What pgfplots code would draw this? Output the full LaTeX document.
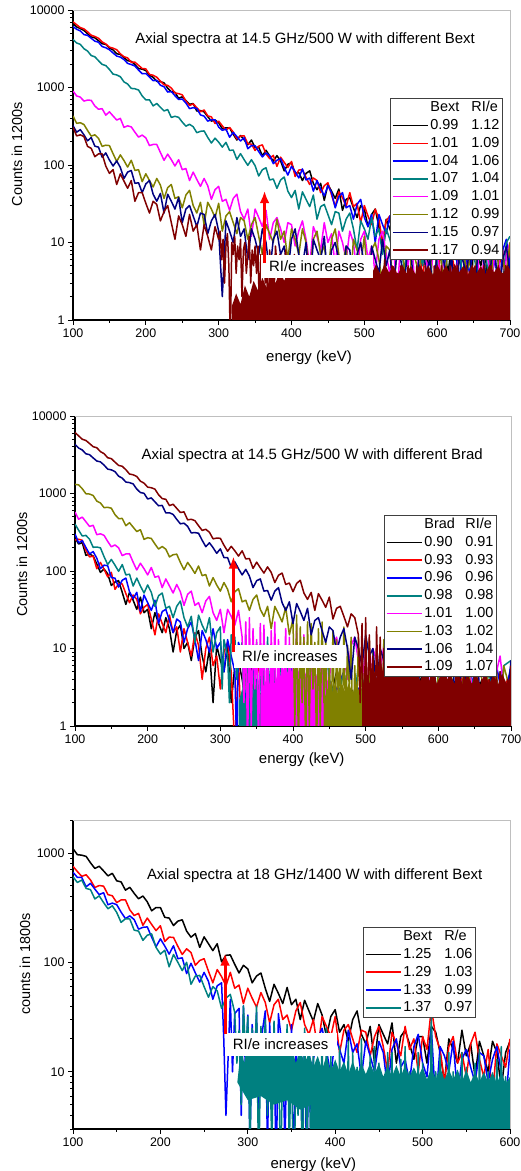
\documentclass[border=0pt]{standalone}
\usepackage{fontspec}
\setmainfont{Liberation Sans}
\usepackage{pgfplots}
\pgfplotsset{compat=1.18}
\usetikzlibrary{arrows.meta}
\definecolor{cteal}{RGB}{0,128,128}
\definecolor{colive}{RGB}{128,128,0}
\definecolor{cnavy}{RGB}{0,0,128}
\definecolor{cwine}{RGB}{128,0,0}
\definecolor{cmag}{RGB}{255,0,255}
\definecolor{cred}{RGB}{255,0,0}
\definecolor{cblue}{RGB}{0,0,255}
\newcommand{\lgent}[2]{\makebox[41bp][l]{#1}#2}
\tikzset{
  mybox/.style={fill=white, minimum width=112bp, minimum height=23bp, inner sep=0pt, font=\fontsize{15}{17}\selectfont},
  myttl/.style={font=\fontsize{15}{17}\selectfont},
  myarr/.style={draw=cred, line width=3bp, -{Latex[length=12bp,width=10bp]}},
}
\pgfplotsset{every axis/.append style={
    scale only axis, anchor=south west,
    axis x line*=bottom, axis y line*=left,
    axis line style={line width=1.1bp},
    tick align=outside, major tick length=5bp, minor tick length=3bp,
    tick style={black, line width=0.8bp},
    ticklabel style={font=\fontsize{12.5}{14}\selectfont},
    /pgf/number format/assume math mode=true,
    /pgf/number format/1000 sep={},
    xlabel style={font=\fontsize{15}{17}\selectfont, anchor=center},
    ylabel style={font=\fontsize{14.5}{17}\selectfont, anchor=center},
    legend cell align=left,
    legend style={draw=black!75, line width=1bp, fill=white,
      font=\fontsize{14.5}{16}\selectfont, inner xsep=1bp, inner ysep=1.5bp,
      row sep=2.4bp, anchor=north east,
      nodes={inner xsep=2bp, inner ysep=0.7bp, text height=11bp, text depth=3bp}},
  },
  every axis plot/.append style={line width=1.5bp, line join=round},
}
\begin{document}
\begin{tikzpicture}
\useasboundingbox (0bp,0bp) rectangle (521bp,1171bp);
% ---------------- Panel 1 ----------------
\begin{axis}[at={(73bp,851bp)}, width=437bp, height=310bp, ymode=log,
  xmin=100, xmax=700, ymin=1, ymax=10000,
  xtick={100,200,...,700}, minor xtick={150,250,...,650},
  ytick={1,10,100,1000,10000}, yticklabels={1,10,100,1000,10000},
  minor ytick={2,3,...,9,20,30,...,90,200,300,...,900,2000,3000,...,9000},
  xlabel={energy (keV)}, ylabel={Counts in 1200s},
  xlabel style={at={(axis description cs:0.54,-0.1226)}},
  ylabel style={at={(axis description cs:-0.128,0.535)}},
  legend style={at={(0.984,0.716)}},
  legend image code/.code={\draw[#1, line width=1.5bp] (0bp,0bp) -- (35bp,0bp);},
  extra description/.code={\draw[black!25, line width=0.8bp] (0,1) -- (1,1) -- (1,0);},
]
\addlegendimage{empty legend}\addlegendentry{\lgent{Bext}{RI/e}}
\addplot[black] coordinates {(100,6660)(105,6050)(110,5757)(115,5447)(120,4930)(125,4491)(130,4374)(135,4017)(140,3677)(145,3597)(150,3221)(155,3056)(160,2723)(165,2672)(170,2426)(175,2216)(180,2174)(185,1974)(190,1751)(195,1724)(200,1653)(205,1436)(210,1355)(215,1202)(220,1190)(225,1149)(230,979)(235,880)(240,866)(245,725)(250,759)(255,678)(260,606)(265,621)(270,496)(275,504)(280,484)(285,421)(290,368)(295,381)(300,351)(305,293)(310,302)(315,301)(320,249)(325,210)(330,240)(335,211)(340,182)(345,210)(350,167)(355,170)(360,131)(365,155)(370,131)(375,112)(380,132)(385,113)(390,84)(395,102)(400,107)(405,78)(410,80)(415,63)(420,78)(425,84)(430,58)(435,48)(440,58)(445,35)(450,56)(455,46)(460,37)(465,49)(470,26)(475,36)(480,38)(485,28)(490,21)(495,30)(500,27)(505,16)(510,23)(515,27)(520,16)(525,9)(530,20)(535,15)(540,11)(545,21)(550,12)(555,15)(560,6)(565,15)(570,10)(575,7)(580,14)(585,10)(590,3)(595,10)(600,13)(605,6)(610,8)(615,4)(620,10)(625,13)(630,6)(635,4)(640,8)(645,1)(650,10)(655,7)(660,5)(665,11)(670,2)(675,7)(680,9)(685,5)(690,3)(695,8)(700,7)};
\addlegendentry{\lgent{0.99}{1.12}}
\addplot[cred] coordinates {(100,7035)(105,6450)(110,5930)(115,5707)(120,5233)(125,4724)(130,4556)(135,4319)(140,3871)(145,3649)(150,3316)(155,3215)(160,3072)(165,2722)(170,2495)(175,2410)(180,2115)(185,2121)(190,1931)(195,1759)(200,1739)(205,1473)(210,1438)(215,1358)(220,1208)(225,1082)(230,1066)(235,982)(240,850)(245,833)(250,803)(255,670)(260,585)(265,614)(270,549)(275,485)(280,513)(285,430)(290,418)(295,343)(300,368)(305,320)(310,283)(315,305)(320,266)(325,217)(330,236)(335,238)(340,188)(345,186)(350,154)(355,175)(360,182)(365,139)(370,121)(375,133)(380,96)(385,126)(390,108)(395,93)(400,111)(405,71)(410,86)(415,87)(420,69)(425,56)(430,68)(435,63)(440,44)(445,54)(450,59)(455,41)(460,29)(465,45)(470,38)(475,29)(480,44)(485,29)(490,32)(495,18)(500,30)(505,22)(510,17)(515,27)(520,20)(525,10)(530,19)(535,22)(540,12)(545,14)(550,8)(555,15)(560,20)(565,10)(570,7)(575,12)(580,3)(585,13)(590,9)(595,7)(600,13)(605,3)(610,9)(615,11)(620,7)(625,4)(630,9)(635,9)(640,3)(645,7)(650,10)(655,5)(660,1)(665,9)(670,6)(675,4)(680,11)(685,5)(690,8)(695,2)(700,8)};
\addlegendentry{\lgent{1.01}{1.09}}
\addplot[cblue] coordinates {(100,6113)(105,5635)(110,5375)(115,4811)(120,4706)(125,4317)(130,3963)(135,3838)(140,3372)(145,3254)(150,3073)(155,2788)(160,2544)(165,2467)(170,2293)(175,2047)(180,1978)(185,1892)(190,1678)(195,1504)(200,1514)(205,1368)(210,1227)(215,1236)(220,1069)(225,1022)(230,874)(235,886)(240,784)(245,700)(250,710)(255,630)(260,534)(265,549)(270,535)(275,443)(280,427)(285,368)(290,383)(295,383)(300,308)(305,280)(310,291)(315,228)(320,264)(325,232)(330,204)(335,225)(340,162)(345,178)(350,177)(355,149)(360,127)(365,143)(370,132)(375,104)(380,115)(385,121)(390,93)(395,74)(400,96)(405,82)(410,68)(415,89)(420,64)(425,68)(430,46)(435,63)(440,49)(445,40)(450,54)(455,44)(460,28)(465,39)(470,44)(475,28)(480,30)(485,20)(490,31)(495,36)(500,21)(505,16)(510,23)(515,10)(520,23)(525,17)(530,13)(535,22)(540,7)(545,14)(550,16)(555,11)(560,7)(565,13)(570,12)(575,6)(580,10)(585,13)(590,7)(595,2)(600,10)(605,8)(610,5)(615,13)(620,6)(625,9)(630,3)(635,9)(640,6)(645,4)(650,10)(655,6)(660,1)(665,7)(670,10)(675,4)(680,6)(685,2)(690,8)(695,11)(700,5)};
\addlegendentry{\lgent{1.04}{1.06}}
\addplot[cteal] coordinates {(100,4177)(105,3755)(110,3605)(115,3169)(120,2953)(125,2581)(130,2489)(135,2217)(140,1985)(145,1919)(150,1709)(155,1488)(160,1452)(165,1377)(170,1181)(175,1109)(180,973)(185,963)(190,928)(195,778)(200,693)(205,693)(210,579)(215,621)(220,556)(225,498)(230,519)(235,411)(240,425)(245,412)(250,358)(255,317)(260,335)(265,312)(270,261)(275,272)(280,275)(285,227)(290,192)(295,222)(300,197)(305,170)(310,196)(315,154)(320,156)(325,118)(330,140)(335,117)(340,99)(345,117)(350,98)(355,72)(360,87)(365,92)(370,64)(375,66)(380,50)(385,64)(390,70)(395,46)(400,38)(405,47)(410,27)(415,45)(420,36)(425,29)(430,41)(435,20)(440,29)(445,31)(450,23)(455,17)(460,25)(465,24)(470,14)(475,20)(480,24)(485,15)(490,8)(495,19)(500,15)(505,11)(510,21)(515,12)(520,15)(525,7)(530,15)(535,11)(540,7)(545,15)(550,11)(555,4)(560,11)(565,15)(570,7)(575,9)(580,5)(585,12)(590,16)(595,8)(600,5)(605,10)(610,2)(615,12)(620,9)(625,6)(630,13)(635,3)(640,9)(645,11)(650,7)(655,4)(660,10)(665,9)(670,4)(675,9)(680,12)(685,6)(690,2)(695,10)(700,12)};
\addlegendentry{\lgent{1.07}{1.04}}
\addplot[cmag] coordinates {(100,900)(105,778)(110,752)(115,668)(120,687)(125,683)(130,577)(135,524)(140,533)(145,440)(150,485)(155,429)(160,380)(165,399)(170,306)(175,320)(180,310)(185,265)(190,229)(195,243)(200,224)(205,178)(210,184)(215,184)(220,145)(225,115)(230,138)(235,117)(240,97)(245,117)(250,87)(255,90)(260,63)(265,81)(270,65)(275,53)(280,67)(285,54)(290,36)(295,48)(300,53)(305,34)(310,36)(315,26)(320,37)(325,42)(330,25)(335,20)(340,27)(345,12)(350,27)(355,21)(360,16)(365,26)(370,11)(375,18)(380,21)(385,15)(390,10)(395,18)(400,17)(405,9)(410,14)(415,19)(420,11)(425,5)(430,16)(435,12)(440,8)(445,18)(450,10)(455,13)(460,5)(465,14)(470,10)(475,6)(480,14)(485,10)(490,4)(495,11)(500,14)(505,6)(510,9)(515,4)(520,11)(525,14)(530,7)(535,4)(540,9)(545,2)(550,11)(555,8)(560,5)(565,12)(570,2)(575,8)(580,10)(585,6)(590,3)(595,8)(600,8)(605,3)(610,7)(615,10)(620,5)(625,1)(630,9)(635,6)(640,4)(645,11)(650,6)(655,8)(660,2)(665,9)(670,6)(675,3)(680,9)(685,6)(690,1)(695,7)(700,10)};
\addlegendentry{\lgent{1.09}{1.01}}
\addplot[colive] coordinates {(100,430)(105,345)(110,351)(115,333)(120,279)(125,236)(130,245)(135,221)(140,174)(145,180)(150,178)(155,140)(160,111)(165,135)(170,114)(175,94)(180,115)(185,85)(190,87)(195,61)(200,77)(205,63)(210,52)(215,67)(220,55)(225,37)(230,51)(235,56)(240,37)(245,39)(250,28)(255,41)(260,47)(265,30)(270,24)(275,33)(280,17)(285,33)(290,27)(295,21)(300,32)(305,14)(310,22)(315,25)(320,18)(325,13)(330,21)(335,19)(340,11)(345,17)(350,21)(355,12)(360,7)(365,17)(370,13)(375,10)(380,20)(385,11)(390,14)(395,6)(400,15)(405,11)(410,7)(415,15)(420,10)(425,4)(430,11)(435,14)(440,7)(445,9)(450,4)(455,11)(460,15)(465,7)(470,5)(475,9)(480,2)(485,11)(490,8)(495,5)(500,12)(505,3)(510,8)(515,10)(520,6)(525,3)(530,9)(535,8)(540,3)(545,7)(550,10)(555,5)(560,1)(565,9)(570,6)(575,4)(580,11)(585,6)(590,8)(595,2)(600,9)(605,6)(610,3)(615,9)(620,6)(625,1)(630,7)(635,10)(640,4)(645,6)(650,2)(655,8)(660,11)(665,5)(670,3)(675,7)(680,1)(685,9)(690,6)(695,4)(700,10)};
\addlegendentry{\lgent{1.12}{0.99}}
\addplot[cnavy] coordinates {(100,322)(105,265)(110,286)(115,245)(120,205)(125,226)(130,175)(135,170)(140,126)(145,143)(150,116)(155,97)(160,113)(165,93)(170,67)(175,81)(180,85)(185,58)(190,59)(195,44)(200,57)(205,63)(210,42)(215,34)(220,43)(225,24)(230,42)(235,34)(240,27)(245,38)(250,18)(255,27)(260,30)(265,22)(270,16)(275,24)(280,23)(285,13)(290,19)(295,23)(300,14)(305,2)(310,19)(315,14)(320,10)(325,21)(330,12)(335,15)(340,6)(345,15)(350,11)(355,7)(360,15)(365,10)(370,4)(375,11)(380,14)(385,7)(390,9)(395,4)(400,11)(405,15)(410,7)(415,5)(420,10)(425,2)(430,11)(435,8)(440,6)(445,12)(450,3)(455,8)(460,10)(465,6)(470,3)(475,9)(480,8)(485,3)(490,7)(495,10)(500,5)(505,1)(510,9)(515,6)(520,4)(525,11)(530,5)(535,8)(540,2)(545,9)(550,6)(555,3)(560,9)(565,6)(570,1)(575,7)(580,10)(585,4)(590,6)(595,2)(600,8)(605,11)(610,5)(615,3)(620,7)(625,0.5)(630,8)(635,6)(640,4)(645,9)(650,1)(655,6)(660,8)(665,5)(670,2)(675,7)(680,6)(685,2)(690,6)(695,9)(700,4)};
\addlegendentry{\lgent{1.15}{0.97}}
\addplot[cwine] coordinates {(100,307)(105,237)(110,245)(115,233)(120,174)(125,164)(130,128)(135,139)(140,139)(145,97)(150,78)(155,87)(160,56)(165,77)(170,62)(175,50)(180,63)(185,34)(190,44)(195,44)(200,32)(205,24)(210,34)(215,31)(220,19)(225,25)(230,30)(235,18)(240,11)(245,22)(250,17)(255,12)(260,23)(265,14)(270,17)(275,8)(280,17)(285,12)(290,8)(295,16)(300,11)(302,14)(304,6)(306,11)(308,3)(310,9)(312,13)(314,5)(316,0.5)(318,10)(320,7)(322,12)(324,4)(326,9)(328,6)(330,11)(332,2)(334,8)(336,10)(338,4)(340,7)(342,12)(344,3)(346,8)(348,5)(350,9)(352,4)(354,9)(356,1)(358,7)(360,5)(362,10)(364,3)(366,6)(368,0.5)(370,8)(372,4)(374,6)(376,2)(378,9)(380,5)(382,3)(384,7)(386,1)(388,6)(390,4)(392,8)(394,2)(396,5)(398,0.5)(400,6)(402,3)(404,7)(406,1)(408,5)(410,4)(412,0.5)(414,6)(416,3)(418,5)(420,1)(422,7)(424,4)(426,2)(428,5)(430,0.5)(432,6)(434,3)(436,4)(438,1)(440,6)(442,2)(444,5)(446,3)(448,0.5)(450,5)(452,2)(454,5)(456,1)(458,4)(460,3)(462,6)(464,0.5)(466,4)(468,2)(470,5)(472,1)(474,3)(476,5)(478,0.5)(480,4)(482,2)(484,6)(486,1)(488,3)(490,4)(492,0.5)(494,5)(496,2)(498,4)(500,1)(502,4)(504,2)(506,5)(508,0.5)(510,3)(512,4)(514,1)(516,5)(518,2)(520,3)(522,0.5)(524,4)(526,2)(528,6)(530,1)(532,3)(534,4)(536,0.5)(538,5)(540,2)(542,3)(544,1)(546,4)(548,2)(550,5)(552,0.5)(554,3)(556,4)(558,1)(560,5)(562,2)(564,3)(566,0.5)(568,4)(570,2)(572,5)(574,1)(576,3)(578,4)(580,0.5)(582,2)(584,5)(586,1)(588,3)(590,4)(592,2)(594,0.5)(596,5)(598,3)(600,1)(602,4)(604,2)(606,5)(608,0.5)(610,3)(612,4)(614,1)(616,2)(618,5)(620,0.5)(622,3)(624,4)(626,1)(628,5)(630,2)(632,3)(634,0.5)(636,4)(638,2)(640,5)(642,1)(644,3)(646,4)(648,0.5)(650,3)(652,5)(654,1)(656,4)(658,2)(660,3)(662,0.5)(664,5)(666,2)(668,4)(670,1)(672,3)(674,5)(676,0.5)(678,2)(680,4)(682,1)(684,5)(686,3)(688,0.5)(690,4)(692,2)(694,5)(696,1)(698,3)(700,4)};
\addlegendentry{\lgent{1.17}{0.94}}
\addplot[forget plot, fill=cwine, draw=none] coordinates {(318,0.5)(318,1.5)(324,2.2)(330,1.6)(336,2.8)(342,2)(348,3.2)(354,2.4)(360,3.5)(366,2.6)(372,3.8)(378,3)(384,4.2)(390,3.2)(396,4.5)(402,3.5)(408,4.8)(414,3.6)(420,5)(426,3.8)(432,5.2)(438,4)(444,5)(450,3.8)(456,5.3)(462,4)(468,5)(474,3.9)(480,5.2)(486,4.1)(492,5)(498,3.8)(504,5.2)(510,4)(516,5.1)(522,3.9)(528,5.3)(534,4.1)(540,5)(546,3.8)(552,5.2)(558,4)(564,5)(570,3.9)(576,5.2)(582,4.1)(588,5)(594,3.8)(600,5.2)(606,4)(612,5.1)(618,3.9)(624,5.3)(630,4.1)(636,5)(642,3.8)(648,5.2)(654,4)(660,5)(666,3.9)(672,5.2)(678,4.1)(684,5)(690,3.8)(696,5.2)(700,4.5)(700,0.5)};
\node[myttl] at (rel axis cs:0.531,0.903) {Axial spectra at 14.5 GHz/500 W with different Bext};
\node[mybox] at (rel axis cs:0.558,0.173) {RI/e increases};
\draw[myarr] (axis cs:363,5.4) -- (axis cs:363,46);
\end{axis}
% ---------------- Panel 2 ----------------
\begin{axis}[at={(75bp,445bp)}, width=436bp, height=310bp, ymode=log,
  xmin=100, xmax=700, ymin=1, ymax=10000,
  xtick={100,200,...,700}, minor xtick={150,250,...,650},
  ytick={1,10,100,1000,10000}, yticklabels={1,10,100,1000,10000},
  minor ytick={2,3,...,9,20,30,...,90,200,300,...,900,2000,3000,...,9000},
  xlabel={energy (keV)}, ylabel={Counts in 1200s},
  xlabel style={at={(axis description cs:0.52,-0.11)}},
  ylabel style={at={(axis description cs:-0.1216,0.52)}},
  legend style={at={(0.968,0.681)}},
  legend image code/.code={\draw[#1, line width=1.5bp] (0bp,0bp) -- (35bp,0bp);},
  extra description/.code={\draw[black!25, line width=0.8bp] (0,1) -- (1,1) -- (1,0);},
]
\addlegendimage{empty legend}\addlegendentry{\lgent{Brad}{RI/e}}
\addplot[black] coordinates {(100,268)(105,223)(110,232)(115,159)(120,165)(125,156)(130,123)(135,96)(140,106)(145,92)(150,65)(155,72)(160,75)(165,53)(170,37)(175,53)(180,42)(185,32)(190,46)(195,29)(200,32)(205,18)(210,29)(215,21)(220,16)(225,25)(230,18)(235,9)(240,17)(245,20)(250,10)(255,12)(260,7)(265,14)(270,17)(275,8)(280,5)(285,10)(290,2)(295,11)(300,7)(305,5)(310,11)(315,2)(320,6)(325,7)(330,4)(335,2)(340,6)(345,5)(350,2)(360,3)(370,1)(380,4)(390,2)(400,0.5)(410,3)(420,4)(430,1)(440,3)(450,2)(460,5)(470,0.5)(480,3)(490,2)(500,4)(510,1)(520,3)(530,2)(540,0.5)(550,4)(560,2)(570,3)(580,5)(590,1)(600,3)(610,2)(620,4)(630,0.5)(640,3)(650,2)(660,4)(670,1)(680,3)(690,2)(700,4)};
\addlegendentry{\lgent{0.90}{0.91}}
\addplot[cred] coordinates {(100,251)(105,257)(110,249)(115,185)(120,152)(125,156)(130,107)(135,129)(140,105)(145,84)(150,96)(155,58)(160,68)(165,68)(170,51)(175,39)(180,49)(185,43)(190,28)(195,34)(200,37)(205,24)(210,15)(215,28)(220,21)(225,16)(230,27)(235,16)(240,19)(245,9)(250,18)(255,12)(260,8)(265,16)(270,11)(275,4)(280,10)(285,14)(290,6)(295,8)(300,3)(305,9)(310,12)(315,5)(320,0.5)(325,7)(330,0.5)(335,8)(340,5)(345,3)(350,8)(360,2)(370,4)(380,1)(390,3)(400,5)(410,0.5)(420,3)(430,2)(440,4)(450,1)(460,3)(470,5)(480,0.5)(490,2)(500,4)(510,1)(520,3)(530,0.5)(540,4)(550,2)(560,5)(570,1)(580,3)(590,2)(600,4)(610,0.5)(620,3)(630,5)(640,1)(650,3)(660,2)(670,4)(680,0.5)(690,3)(700,5)};
\addlegendentry{\lgent{0.93}{0.93}}
\addplot[cblue] coordinates {(100,301)(105,231)(110,246)(115,201)(120,166)(125,178)(130,146)(135,107)(140,119)(145,117)(150,82)(155,81)(160,62)(165,76)(170,81)(175,54)(180,44)(185,53)(190,30)(195,49)(200,39)(205,31)(210,42)(215,21)(220,30)(225,32)(230,23)(235,16)(240,24)(245,22)(250,12)(255,18)(260,22)(265,13)(270,7)(275,17)(280,13)(285,9)(290,18)(295,10)(300,12)(305,5)(310,13)(315,8)(320,5)(322.5,0.5)(325,12)(330,8)(335,2)(337.5,0.5)(340,8)(345,11)(347.5,1)(350,4)(352.5,0.5)(355,6)(360,2)(362.5,0.5)(365,7)(370,10)(375,4)(380,2)(385,6)(390,0.5)(395,7)(400,4)(410,1)(420,5)(430,2)(440,4)(450,0.5)(460,3)(470,5)(480,1)(490,3)(500,4)(510,0.5)(520,3)(530,5)(540,2)(550,1)(560,4)(570,3)(580,0.5)(590,5)(600,2)(610,3)(620,1)(630,4)(640,2)(650,5)(660,0.5)(670,3)(680,6)(690,2)(700,6)};
\addlegendentry{\lgent{0.96}{0.96}}
\addplot[cteal] coordinates {(100,403)(105,336)(110,283)(115,288)(120,257)(125,202)(130,204)(135,199)(140,153)(145,121)(150,141)(155,119)(160,99)(165,121)(170,89)(175,91)(180,64)(185,81)(190,64)(195,52)(200,66)(205,53)(210,35)(215,48)(220,52)(225,33)(230,35)(235,25)(240,35)(245,41)(250,25)(255,19)(260,26)(265,12)(270,27)(275,20)(280,16)(285,25)(290,9)(295,16)(300,19)(302.5,3)(305,13)(310,8)(312.5,2)(315,15)(320,14)(322.5,4)(325,7)(330,12)(332.5,1)(335,15)(337.5,3)(340,8)(342.5,0.5)(345,3)(350,12)(352.5,1)(355,9)(357.5,2)(360,6)(362.5,0.5)(365,14)(367.5,2)(370,8)(372.5,1)(375,9)(377.5,0.5)(380,3)(385,10)(390,7)(395,4)(400,10)(405,6)(410,1)(415,6)(420,10)(425,4)(430,5)(435,2)(440,7)(445,10)(450,4)(460,2)(470,5)(480,1)(490,6)(500,3)(510,0.5)(520,5)(530,2)(540,4)(550,6)(560,1)(570,4)(580,3)(590,0.5)(600,5)(610,2)(620,4)(630,1)(640,6)(650,3)(660,2)(670,5)(680,1)(690,6)(700,7)};
\addlegendentry{\lgent{0.98}{0.98}}
\addplot[forget plot, fill=cteal, draw=none] coordinates {(325,0.5)(325,2)(330,3)(335,2.2)(340,3.5)(345,2.5)(350,3.8)(355,2.6)(360,3.5)(365,2.4)(370,3)(373,0.5)};
\addplot[cmag] coordinates {(100,577)(105,466)(110,496)(115,432)(120,376)(125,389)(130,294)(135,302)(140,288)(145,241)(150,205)(155,217)(160,199)(165,158)(170,166)(175,167)(180,130)(185,103)(190,126)(195,107)(200,89)(205,111)(210,83)(215,86)(220,61)(225,79)(230,64)(235,52)(240,67)(245,54)(250,36)(255,50)(260,55)(265,36)(270,39)(275,29)(280,41)(285,47)(290,29)(295,23)(300,32)(305,16)(310,32)(315,26)(320,20)(325,31)(330,14)(332.5,2)(335,22)(337.5,0.5)(340,25)(342.5,1)(345,18)(347.5,3)(350,13)(352.5,0.5)(355,21)(357.5,2)(360,20)(362.5,1)(365,11)(367.5,0.5)(370,17)(372.5,2)(375,22)(377.5,0.5)(380,13)(382.5,1)(385,7)(387.5,3)(390,18)(392.5,0.5)(395,14)(397.5,1)(400,10)(402.5,2)(405,20)(407.5,0.5)(410,12)(412.5,1)(415,15)(417.5,0.5)(420,6)(422.5,2)(425,15)(427.5,0.5)(430,11)(432.5,1)(435,7)(437.5,3)(440,15)(442.5,0.5)(445,10)(447.5,2)(450,4)(455,11)(460,14)(465,7)(470,8)(475,4)(480,11)(485,14)(490,7)(495,4)(500,9)(505,1)(510,10)(515,7)(520,5)(525,11)(530,2)(535,6)(540,8)(545,5)(550,2)(555,7)(560,6)(565,2)(570,5)(575,8)(580,4)(585,0.5)(590,7)(595,4)(600,2)(605,8)(610,4)(615,5)(620,1)(625,6)(630,4)(635,2)(640,6)(645,4)(650,0.5)(655,4)(660,7)(665,2)(670,3)(675,1)(680,5)(685,8)(690,3)(695,1)(700,5)};
\addlegendentry{\lgent{1.01}{1.00}}
\addplot[forget plot, fill=cmag, draw=none] coordinates {(355,0.5)(355,2.5)(360,3.5)(365,2.8)(370,4.5)(375,3.5)(380,5.2)(385,4)(390,5.8)(395,4.2)(400,6)(405,4.5)(410,5.8)(415,4.2)(420,5.5)(425,4)(430,5.2)(435,3.8)(440,4.8)(445,3.5)(450,4.2)(455,2.5)(458,0.5)};
\addplot[colive] coordinates {(100,1311)(105,1292)(110,1152)(115,993)(120,984)(125,942)(130,798)(135,755)(140,657)(145,663)(150,646)(155,534)(160,475)(165,476)(170,384)(175,420)(180,368)(185,323)(190,341)(195,256)(200,269)(205,263)(210,223)(215,192)(220,207)(225,191)(230,152)(235,162)(240,165)(245,129)(250,104)(255,129)(260,111)(265,93)(270,116)(275,87)(280,90)(285,64)(290,82)(295,66)(300,55)(305,71)(310,58)(315,40)(320,54)(325,59)(330,40)(335,42)(340,31)(345,43)(350,49)(355,32)(360,26)(365,35)(370,18)(375,35)(380,28)(385,22)(390,34)(395,15)(400,24)(402.5,1)(405,27)(407.5,0.5)(410,19)(412.5,2)(415,14)(417.5,0.5)(420,22)(422.5,1)(425,21)(427.5,3)(430,12)(432.5,0.5)(435,18)(437.5,1)(440,22)(442.5,2)(445,13)(447.5,0.5)(450,7)(452.5,1)(455,17)(457.5,0.5)(460,13)(462.5,2)(465,9)(467.5,0.5)(470,19)(472.5,1)(475,11)(477.5,3)(480,14)(482.5,0.5)(485,6)(487.5,1)(490,14)(492.5,2)(495,10)(497.5,0.5)(500,6)(502.5,1)(505,13)(507.5,0.5)(510,9)(512.5,2)(515,3)(517.5,0.5)(520,10)(522.5,1)(525,13)(527.5,3)(530,5)(532.5,0.5)(535,7)(537.5,1)(540,3)(542.5,2)(545,9)(547.5,0.5)(550,13)(555,5)(560,3)(565,8)(570,1)(575,9)(580,6)(585,4)(590,9)(595,1)(600,5)(605,7)(610,4)(615,2)(620,6)(625,6)(630,2)(635,5)(640,7)(645,3)(650,0.5)(655,6)(660,4)(665,2)(670,8)(675,3)(680,5)(685,1)(690,6)(695,4)(700,2)};
\addlegendentry{\lgent{1.03}{1.02}}
\addplot[forget plot, fill=colive, draw=none] coordinates {(442,0.5)(442,2)(447,3)(452,2.4)(457,3.4)(462,2.6)(467,3.5)(472,2.7)(477,3.6)(482,2.6)(487,3.5)(492,2.7)(497,3.6)(502,2.6)(507,3.4)(512,2.5)(517,3.3)(522,2.5)(527,3.2)(532,2.4)(537,3)(542,2.2)(547,2.8)(552,2)(556,0.5)};
\addplot[cnavy] coordinates {(100,4302)(105,3857)(110,3644)(115,3252)(120,3170)(125,2877)(130,2625)(135,2560)(140,2324)(145,2064)(150,2018)(155,1917)(160,1674)(165,1578)(170,1405)(175,1382)(180,1330)(185,1140)(190,1029)(195,1006)(200,849)(205,877)(210,780)(215,694)(220,702)(225,561)(230,564)(235,537)(240,464)(245,406)(250,414)(255,377)(260,310)(265,313)(270,307)(275,249)(280,206)(285,231)(290,200)(295,169)(300,193)(305,149)(310,149)(315,111)(320,131)(325,107)(330,89)(335,105)(340,86)(345,61)(350,75)(355,79)(360,55)(365,56)(370,42)(375,55)(380,61)(385,39)(390,31)(395,40)(400,21)(405,38)(410,30)(415,23)(420,33)(425,15)(430,23)(435,25)(440,17)(445,12)(450,19)(455,17)(460,9)(465,14)(470,18)(475,10)(480,4)(485,14)(490,10)(495,6)(500,15)(505,8)(510,10)(515,3)(520,10)(525,7)(530,4)(535,10)(540,6)(545,1)(550,6)(555,9)(560,3)(565,5)(570,2)(575,6)(580,9)(585,4)(590,2)(595,5)(600,0.5)(605,7)(610,4)(615,3)(620,7)(625,1)(630,4)(635,6)(640,3)(645,1)(650,5)(655,5)(660,1)(665,4)(670,6)(675,3)(680,0.5)(685,5)(690,3)(695,2)(700,7)};
\addlegendentry{\lgent{1.06}{1.04}}
\addplot[cwine] coordinates {(100,6146)(105,5533)(110,5013)(115,4836)(120,4415)(125,4016)(130,3895)(135,3468)(140,3265)(145,2894)(150,2815)(155,2540)(160,2305)(165,2245)(170,2026)(175,1784)(180,1743)(185,1659)(190,1442)(195,1361)(200,1208)(205,1187)(210,1138)(215,963)(220,860)(225,841)(230,698)(235,727)(240,643)(245,569)(250,579)(255,457)(260,465)(265,446)(270,384)(275,334)(280,345)(285,316)(290,260)(295,266)(300,264)(305,215)(310,180)(315,208)(320,182)(325,156)(330,182)(335,143)(340,145)(345,108)(350,130)(355,110)(360,94)(365,113)(370,96)(375,71)(380,88)(385,94)(390,67)(395,70)(400,54)(405,69)(410,76)(415,52)(420,43)(425,53)(430,31)(435,51)(440,42)(445,34)(450,46)(455,24)(460,33)(465,35)(470,26)(475,19)(480,28)(485,25)(490,15)(492.5,2)(495,21)(497.5,0.5)(500,25)(502.5,1)(505,15)(507.5,3)(510,8)(512.5,0.5)(515,19)(517.5,2)(520,14)(522.5,1)(525,10)(527.5,0.5)(530,20)(532.5,2)(535,11)(537.5,1)(540,13)(542.5,0.5)(545,5)(547.5,3)(550,13)(552.5,1)(555,9)(557.5,0.5)(560,6)(562.5,2)(565,12)(567.5,1)(570,8)(572.5,0.5)(575,2)(577.5,2)(580,8)(582.5,0.5)(585,11)(587.5,1)(590,5)(592.5,3)(595,6)(597.5,0.5)(600,2)(602.5,1)(605,8)(607.5,2)(610,10)(612.5,0.5)(615,4)(617.5,1)(620,2)(622.5,2)(625,6)(627.5,0.5)(630,1)(632.5,1)(635,7)(637.5,0.5)(640,5)(642.5,2)(645,3)(647.5,1)(650,7)(652.5,0.5)(655,1)(657.5,2)(660,4)(662.5,1)(665,6)(667.5,0.5)(670,4)(672.5,2)(675,2)(677.5,0.5)(680,5)(682.5,1)(685,5)(687.5,2)(690,1)(692.5,0.5)(695,4)(697.5,1)(700,6)};
\addlegendentry{\lgent{1.09}{1.07}}
\addplot[forget plot, fill=cwine, draw=none] coordinates {(495,0.5)(495,3)(500,5)(505,3.5)(510,6)(515,4)(520,7)(525,4.5)(530,7)(535,5)(540,6.5)(545,4)(550,6)(555,4.2)(560,5.5)(565,4)(570,5.2)(575,3.8)(580,5)(586,3.6)(592,4.8)(598,3.5)(604,4.7)(610,3.6)(616,4.8)(622,3.5)(628,4.6)(634,3.4)(640,4.7)(646,3.5)(652,4.6)(658,3.4)(664,4.8)(670,3.5)(676,4.6)(682,3.4)(688,4.7)(694,3.5)(700,4.5)(700,0.5)};
\node[myttl] at (rel axis cs:0.544,0.872) {Axial spectra at 14.5 GHz/500 W with different Brad};
\node[mybox] at (rel axis cs:0.493,0.224) {RI/e increases};
\draw[myarr] (axis cs:318,9) -- (axis cs:318,153);
\end{axis}
% ---------------- Panel 3 ----------------
\begin{axis}[at={(73bp,42bp)}, width=437bp, height=309bp, ymode=log,
  xmin=100, xmax=600, ymin=3, ymax=2000,
  xtick={100,200,...,600}, minor xtick={150,250,...,550},
  ytick={10,100,1000}, yticklabels={10,100,1000},
  minor ytick={3,4,...,9,20,30,...,90,200,300,...,900,2000},
  xlabel={energy (keV)}, ylabel={counts in 1800s},
  xlabel style={at={(axis description cs:0.55,-0.1165)}},
  ylabel style={at={(axis description cs:-0.11,0.534)}},
  legend style={at={(0.922,0.654)}},
  legend image code/.code={\draw[#1, line width=1.5bp] (0bp,0bp) -- (35bp,0bp);},
  extra description/.code={\draw[black!25, line width=0.8bp] (0,1) -- (1,1) -- (1,0);},
]
\addlegendimage{empty legend}\addlegendentry{\lgent{Bext}{R/e}}
\addplot[black] coordinates {(100,1093)(105,964)(110,954)(115,930)(120,813)(125,722)(130,756)(135,685)(140,617)(145,651)(150,556)(155,544)(160,457)(165,485)(170,427)(175,381)(180,404)(185,357)(190,296)(195,317)(200,317)(205,258)(210,254)(215,217)(220,238)(225,245)(230,193)(235,170)(240,183)(245,137)(250,171)(255,148)(260,128)(265,148)(270,101)(275,116)(280,117)(285,96)(290,80)(295,94)(300,87)(305,65)(310,75)(315,80)(320,58)(325,44)(330,63)(335,52)(340,42)(345,59)(350,41)(355,46)(360,30)(365,45)(370,36)(375,29)(380,42)(385,33)(390,21)(395,32)(400,37)(405,23)(410,27)(415,19)(420,30)(425,36)(430,22)(435,18)(440,26)(445,12)(450,27)(455,22)(460,18)(465,28)(470,12)(475,21)(480,24)(485,18)(490,13)(495,21)(500,21)(505,12)(510,26)(515,23)(520,15)(525,8)(530,20)(535,16)(540,12)(545,24)(550,14)(555,18)(560,9)(565,19)(570,14)(575,10)(580,19)(585,15)(590,7)(595,15)(600,19)};
\addlegendentry{\lgent{1.25}{1.06}}
\addplot[cred] coordinates {(100,755)(105,676)(110,611)(115,632)(120,566)(125,483)(130,504)(135,497)(140,416)(145,406)(150,352)(155,372)(160,373)(165,302)(170,268)(175,280)(180,218)(185,254)(190,222)(195,195)(200,216)(205,155)(210,170)(215,169)(220,140)(225,118)(230,133)(235,123)(240,94)(245,104)(250,108)(255,83)(260,65)(265,86)(270,74)(275,61)(280,81)(285,58)(290,62)(295,42)(300,58)(305,47)(310,39)(315,53)(320,43)(325,28)(330,41)(335,46)(340,30)(345,33)(350,24)(355,36)(360,43)(365,27)(370,22)(375,30)(380,16)(385,32)(390,26)(395,21)(400,32)(405,15)(410,24)(415,27)(420,20)(425,15)(430,24)(435,23)(440,14)(445,21)(450,26)(455,17)(460,10)(465,23)(470,18)(475,14)(480,26)(485,16)(490,20)(495,10)(500,21)(505,16)(510,38)(515,21)(520,16)(525,8)(530,17)(535,21)(540,12)(545,15)(550,9)(555,18)(560,23)(565,13)(570,9)(575,16)(580,6)(585,18)(590,14)(595,11)(600,20)};
\addlegendentry{\lgent{1.29}{1.03}}
\addplot[cblue] coordinates {(100,666)(105,598)(110,597)(115,490)(120,528)(125,467)(130,416)(135,433)(140,336)(145,348)(150,337)(155,288)(160,251)(165,266)(170,246)(175,201)(180,209)(185,211)(190,170)(195,139)(200,164)(205,141)(210,119)(215,142)(220,108)(225,110)(230,79)(235,98)(240,80)(245,66)(250,81)(255,67)(260,46)(265,61)(270,65)(272.5,20)(275,4)(280,46)(282.5,10)(285,34)(290,38)(292.5,4)(295,40)(297.5,9)(300,33)(302.5,2)(305,27)(307.5,12)(310,35)(312.5,3)(315,19)(320,36)(322.5,2)(325,28)(327.5,8)(330,23)(332.5,1)(335,34)(340,15)(342.5,2)(345,24)(347.5,5)(350,27)(352.5,1)(355,20)(357.5,6)(360,14)(362.5,2)(365,23)(367.5,1)(370,22)(372.5,4)(375,13)(380,20)(385,25)(390,16)(395,9)(400,21)(405,16)(410,12)(415,24)(420,15)(425,18)(430,9)(435,19)(440,14)(445,10)(450,19)(455,15)(460,7)(465,16)(470,20)(475,11)(480,13)(485,8)(490,17)(495,22)(500,12)(505,9)(510,25)(515,5)(520,17)(525,14)(530,10)(535,19)(540,6)(545,13)(550,16)(555,11)(560,8)(565,15)(570,14)(575,8)(580,13)(585,17)(590,10)(595,5)(600,16)};
\addlegendentry{\lgent{1.33}{0.99}}
\addplot[cteal] coordinates {(100,606)(105,537)(110,565)(115,474)(120,462)(125,380)(130,405)(135,352)(140,309)(145,329)(150,286)(155,232)(160,250)(165,249)(170,197)(175,193)(180,159)(185,177)(190,182)(195,137)(200,119)(205,129)(210,91)(215,118)(220,100)(225,84)(230,100)(235,63)(240,75)(245,76)(250,60)(255,48)(260,60)(265,55)(270,38)(275,47)(280,51)(285,35)(287.5,12)(290,24)(292.5,5)(295,40)(297.5,14)(300,32)(302.5,2)(305,25)(307.5,9)(310,40)(312.5,1)(315,26)(317.5,11)(320,30)(322.5,4)(325,17)(327.5,2)(330,29)(332.5,8)(335,22)(337.5,1)(340,16)(342.5,6)(345,27)(347.5,2)(350,20)(352.5,0.5)(355,11)(357.5,4)(360,20)(362.5,1)(365,25)(367.5,2)(370,15)(372.5,1)(375,17)(377.5,0.5)(380,11)(382.5,2)(385,20)(387.5,0.5)(390,25)(392.5,1)(395,14)(397.5,2.5)(400,10)(402.5,0.5)(405,17)(407.5,1.5)(410,6)(412.5,1)(415,19)(417.5,0.5)(420,15)(422.5,2)(425,11)(427.5,0.5)(430,20)(432.5,1)(435,7)(437.5,2.5)(440,14)(442.5,0.5)(445,17)(447.5,1.5)(450,12)(452.5,1)(455,8)(457.5,0.5)(460,15)(462.5,2)(465,15)(467.5,0.5)(470,8)(472.5,1)(475,13)(477.5,2.5)(480,17)(482.5,0.5)(485,10)(487.5,1.5)(490,5)(492.5,1)(495,15)(497.5,0.5)(500,12)(502.5,2)(505,8)(507.5,0.5)(510,34)(512.5,1)(515,10)(517.5,2.5)(520,14)(522.5,0.5)(525,6)(527.5,1.5)(530,15)(532.5,1)(535,10)(537.5,0.5)(540,7)(542.5,2)(545,15)(547.5,0.5)(550,11)(552.5,1)(555,5)(557.5,2.5)(560,12)(562.5,0.5)(565,16)(567.5,1.5)(570,8)(572.5,1)(575,10)(577.5,0.5)(580,6)(582.5,2)(585,13)(587.5,0.5)(590,17)(592.5,1)(595,9)(597.5,2.5)(600,6)};
\addlegendentry{\lgent{1.37}{0.97}}
\addplot[forget plot, fill=cteal, draw=none] coordinates {(288,8)(292,16)(296,12)(300,22)(305,15)(310,24)(315,16)(320,22)(325,14)(330,20)(335,14)(340,18)(345,13)(350,17)(355,12)(360,16)(365,12)(370,15)(375,11)(380,14)(385,10.5)(390,14)(395,10)(400,13)(405,10)(410,12.5)(415,9.5)(420,12.5)(425,9.5)(430,12)(435,9.5)(440,12)(445,9.5)(450,12)(455,9)(460,11.5)(465,9)(470,11.5)(475,9)(480,11.5)(485,9)(490,11)(495,9)(500,11)(505,8.5)(510,11)(515,8.5)(520,11)(525,8.5)(530,10.5)(535,8.5)(540,10.5)(545,8)(550,10.5)(555,8)(560,10)(565,8)(570,10)(575,8)(580,10)(585,7.8)(590,10)(595,7.8)(600,9)(600,0.5)(372,0.5)(372,5)(360,4.5)(345,5.5)(330,5)(315,6)(300,5.5)(288,8)};
\node[myttl] at (rel axis cs:0.553,0.819) {Axial spectra at 18 GHz/1400 W with different Bext};
\node[mybox] at (rel axis cs:0.475,0.273) {RI/e increases};
\draw[myarr] (axis cs:274,22) -- (axis cs:274,120);
\end{axis}
\end{tikzpicture}
\end{document}
